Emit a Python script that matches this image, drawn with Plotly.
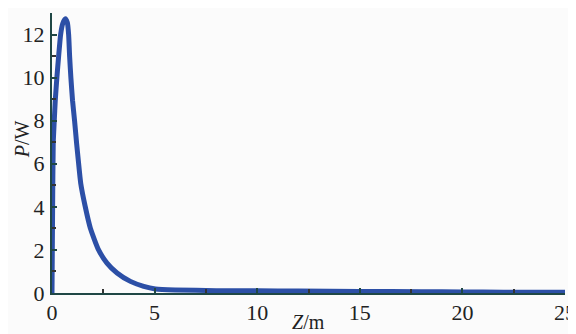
import plotly.graph_objects as go

z_m = [0, 0.03, 0.06, 0.11, 0.16, 0.24, 0.32, 0.42, 0.52, 0.65, 0.75, 0.81, 0.86, 0.92, 1.0, 1.1, 1.2,
       1.28, 1.4, 1.62, 1.87, 2.27, 2.68, 3.17, 3.82, 4.47, 5.04, 6.0, 8.0, 10.0, 12.0, 15.0, 18.0,
       20.0, 22.0, 25.0]
p_w = [0, 4.0, 6.94, 8.0, 8.95, 10.03, 10.96, 12.0, 12.5, 12.73, 12.55, 12.0, 10.96, 10.0, 8.95, 8.0,
       6.94, 6.17, 5.09, 4.01, 3.01, 2.0, 1.39, 0.93, 0.54, 0.31, 0.19, 0.14, 0.11, 0.1, 0.09, 0.07,
       0.06, 0.05, 0.04, 0.04]

x_ticks = [0, 5, 10, 15, 20, 25]
y_ticks = [0, 2, 4, 6, 8, 10, 12]

axis_col = "#1f4745"
font = dict(family="Times New Roman, Liberation Serif, DejaVu Serif, serif", size=22, color="#222222")

fig = go.Figure()
fig.add_trace(go.Scatter(x=z_m, y=p_w, mode="lines",
                         line=dict(color="#2c4fa6", width=5, shape="spline", smoothing=0.5),
                         showlegend=False, cliponaxis=False))

fig.update_layout(
    width=576, height=334,
    margin=dict(l=44, r=19, t=5, b=49, autoexpand=False),
    paper_bgcolor="#fbfbfb", plot_bgcolor="#fbfbfb",
    font=font,
    xaxis=dict(range=[0, 25], tickvals=x_ticks, ticktext=[str(v) for v in x_ticks],
               automargin=False,
               showgrid=False, zeroline=False, showline=True, linecolor=axis_col, linewidth=2,
               ticks="inside", ticklen=5, tickwidth=2, tickcolor=axis_col,
               minor=dict(dtick=2.5, tick0=0, ticks="inside", ticklen=4, tickwidth=2, tickcolor="#333333"),
               ticklabelstandoff=-1),
    yaxis=dict(range=[0, 13], tickvals=y_ticks, ticktext=[str(v) for v in y_ticks],
               automargin=False,
               showgrid=False, zeroline=False, showline=True, linecolor=axis_col, linewidth=2,
               ticks="inside", ticklen=5, tickwidth=2, tickcolor=axis_col,
               minor=dict(dtick=1, tick0=0, ticks="inside", ticklen=4, tickwidth=2, tickcolor="#333333"),
               ticklabelstandoff=1),
    annotations=[
        dict(text="<i>Z</i>/m", xref="paper", yref="paper", x=0.5, y=-0.058, xanchor="center",
             yanchor="top", showarrow=False, font=dict(size=20)),
        dict(text="<i>P</i>/W", xref="paper", yref="paper", x=-0.058, y=0.55, xanchor="center",
             yanchor="middle", showarrow=False, textangle=-90, font=dict(size=20)),
    ],
)

fig.write_html("out.html")
